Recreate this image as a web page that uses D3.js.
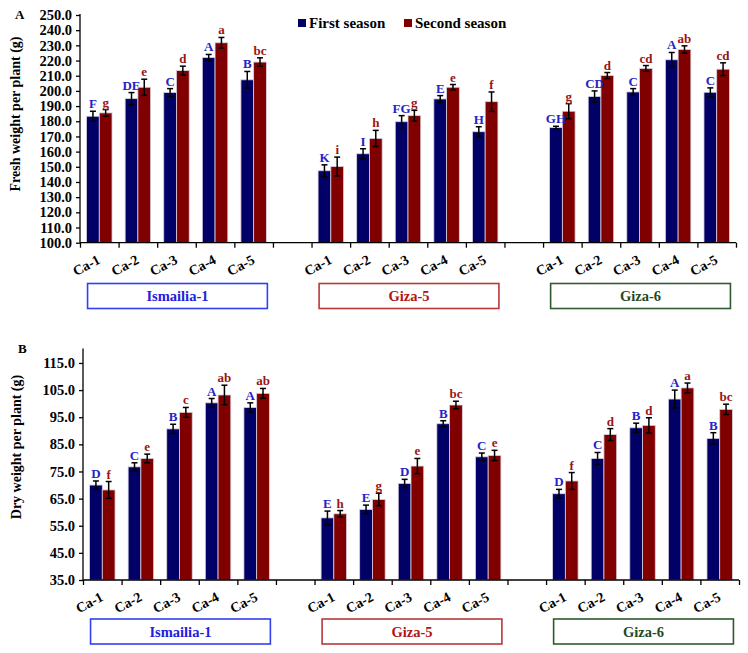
<!DOCTYPE html>
<html>
<head>
<meta charset="utf-8">
<style>
  body { margin: 0; background: #fff; }
  svg text { font-family: "Liberation Serif", "Times New Roman", serif; font-weight: bold; }
  .axis path, .axis line { stroke: #000; stroke-width: 1.3; }
  .axis text { font-size: 14.5px; fill: #000; }
  .bar { stroke: #d8d0e0; stroke-width: 0.8; }
  .err { stroke: #000; stroke-width: 1.5; fill: none; }
</style>
</head>
<body>
<svg id="chart" width="748" height="653"></svg>
<script src="https://cdn.jsdelivr.net/npm/d3@7"></script>
<script>
// cultivars, treatments, seasons
var cultivars = ["Ismailia-1", "Giza-5", "Giza-6"];
var treatments = ["Ca-1", "Ca-2", "Ca-3", "Ca-4", "Ca-5"];
var seasons = ["First season", "Second season"];

// A: fresh weight per plant (g), order: Ismailia-1 Ca-1..5, Giza-5 Ca-1..5, Giza-6 Ca-1..5
var freshFirst = [183.3, 194.9, 198.9, 222.0, 207.3, 147.4, 158.6, 179.7, 194.7, 173.1, 175.8, 196.3, 199.3, 220.5, 199.1];
var freshFirstErr = [3.3, 4.0, 2.6, 2.0, 5.5, 3.9, 3.3, 4.0, 2.2, 3.3, 0.9, 3.7, 2.2, 4.8, 2.9];
var freshSecond = [185.5, 202.4, 213.4, 231.7, 219.0, 150.2, 168.7, 183.7, 202.4, 192.9, 186.6, 210.1, 214.8, 227.3, 214.3];
var freshSecondErr = [2.2, 5.3, 2.9, 3.5, 2.8, 6.2, 5.3, 3.5, 1.8, 6.4, 5.0, 2.0, 1.9, 2.4, 4.2];
var freshFirstLetters = ["F", "DE", "C", "A", "B", "K", "I", "FG", "E", "H", "GH", "CD", "C", "A", "C"];
var freshSecondLetters = ["g", "e", "d", "a", "bc", "i", "h", "g", "e", "f", "g", "d", "cd", "ab", "cd"];
var freshTicks = [100, 110, 120, 130, 140, 150, 160, 170, 180, 190, 200, 210, 220, 230, 240, 250];

// B: dry weight per plant (g)
var dryFirst = [70.0, 76.7, 90.7, 100.3, 98.6, 57.9, 61.0, 70.6, 92.6, 80.4, 66.8, 79.8, 91.1, 101.7, 87.2];
var dryFirstErr = [1.5, 1.5, 1.7, 1.6, 1.7, 2.5, 1.6, 1.5, 1.1, 1.4, 1.6, 2.2, 1.7, 3.3, 2.1];
var drySecond = [68.2, 79.8, 96.8, 103.2, 103.8, 59.4, 64.7, 77.0, 99.5, 80.9, 71.5, 88.6, 92.0, 105.8, 97.9];
var drySecondErr = [3.1, 1.6, 1.8, 3.6, 1.8, 1.2, 2.3, 2.8, 1.4, 1.9, 3.1, 2.2, 2.8, 1.8, 1.9];
var dryFirstLetters = ["D", "C", "B", "A", "A", "E", "E", "D", "B", "C", "D", "C", "B", "A", "B"];
var drySecondLetters = ["f", "e", "c", "ab", "ab", "h", "g", "e", "bc", "e", "f", "d", "d", "a", "bc"];
var dryTicks = [35, 45, 55, 65, 75, 85, 95, 105, 115];

var barColors = ["#000066", "#800000"];
var letterColors = ["#2424c8", "#9a1515"];
var boxStroke = ["#3040ee", "#b83838", "#2f5a2f"];
var boxText = ["#2020dd", "#b01414", "#1f4a1f"];

var svg = d3.select("#chart");

// slot keys: 5 treatments per cultivar with an empty slot between cultivars
var slots = [];
cultivars.forEach(function(c, ci) {
  if (ci > 0) slots.push("gap" + ci);
  treatments.forEach(function(t) { slots.push(c + "|" + t); });
});

function drawPanel(opt) {
  var g = svg.append("g");
  var x = d3.scaleBand().domain(slots).range([opt.x0, opt.x1])
      .paddingInner(0.34).paddingOuter(0.17);
  var xs = d3.scaleBand().domain(seasons).range([0, x.bandwidth()]);
  var xl = d3.scaleLinear().domain([0, slots.length]).range([opt.x0, opt.x1]);
  var y = d3.scaleLinear().domain(opt.domain).range([opt.yBottom, opt.yTop]);

  var rows = [];
  cultivars.forEach(function(c, ci) {
    treatments.forEach(function(t, ti) {
      var i = ci * treatments.length + ti;
      rows.push({ key: c + "|" + t, t: t, s: 0, v: opt.first[i], e: opt.firstErr[i], l: opt.firstLetters[i] });
      rows.push({ key: c + "|" + t, t: t, s: 1, v: opt.second[i], e: opt.secondErr[i], l: opt.secondLetters[i] });
    });
  });

  g.selectAll("rect.bar").data(rows).enter().append("rect")
    .attr("class", "bar")
    .attr("x", function(d) { return x(d.key) + xs(seasons[d.s]); })
    .attr("y", function(d) { return y(d.v); })
    .attr("width", xs.bandwidth())
    .attr("height", function(d) { return y(opt.domain[0]) - y(d.v); })
    .attr("fill", function(d) { return barColors[d.s]; });

  var err = g.selectAll("g.err").data(rows).enter().append("g").attr("class", "err")
    .attr("transform", function(d) { return "translate(" + (x(d.key) + xs(seasons[d.s]) + xs.bandwidth() / 2) + ",0)"; });
  err.append("line").attr("y1", function(d) { return y(d.v - d.e); }).attr("y2", function(d) { return y(d.v + d.e); });
  err.append("line").attr("x1", -3).attr("x2", 3)
    .attr("y1", function(d) { return y(d.v + d.e); }).attr("y2", function(d) { return y(d.v + d.e); });
  err.append("line").attr("x1", -3).attr("x2", 3)
    .attr("y1", function(d) { return y(d.v - d.e); }).attr("y2", function(d) { return y(d.v - d.e); });

  g.selectAll("text.lab").data(rows).enter().append("text")
    .attr("class", "lab")
    .attr("x", function(d) { return x(d.key) + xs(seasons[d.s]) + xs.bandwidth() / 2; })
    .attr("y", function(d) { return y(d.v + d.e) - 3; })
    .attr("text-anchor", "middle")
    .style("font-size", "13px")
    .attr("fill", function(d) { return letterColors[d.s]; })
    .text(function(d) { return d.l; });

  // y axis
  g.append("g").attr("class", "axis")
    .attr("transform", "translate(" + opt.x0 + ",0)")
    .call(d3.axisLeft(y).tickValues(opt.ticks).tickSize(4).tickFormat(d3.format(".1f")))
    .call(function(a) { a.select(".domain").attr("d", "M0," + y(opt.domain[0]) + "V" + (opt.yTop - 1)); })
    .selectAll("text").attr("dx", "-1");

  // x axis: tick marks at slot boundaries
  g.append("g").attr("class", "axis")
    .attr("transform", "translate(0," + y(opt.domain[0]) + ")")
    .call(d3.axisBottom(xl).ticks(slots.length).tickSize(5).tickFormat(""))
    .select(".domain").attr("d", "M" + opt.x0 + ",0H" + opt.x1);

  // treatment labels, rotated
  g.selectAll("text.cat").data(rows.filter(function(d) { return d.s === 0; })).enter().append("text")
    .attr("class", "cat")
    .attr("text-anchor", "end")
    .style("font-size", "14px")
    .attr("transform", function(d) {
      return "translate(" + (x(d.key) + x.bandwidth() / 2 + 2) + "," + (y(opt.domain[0]) + 20) + ") rotate(-28)";
    })
    .text(function(d) { return d.t; });

  // cultivar boxes
  cultivars.forEach(function(c, ci) {
    var a = x(c + "|" + treatments[0]) + 1;
    var b = x(c + "|" + treatments[treatments.length - 1]) + x.bandwidth() + 1;
    g.append("rect").attr("x", a).attr("y", opt.boxY).attr("width", b - a).attr("height", 25)
      .attr("fill", "#fff").attr("stroke", boxStroke[ci]).attr("stroke-width", 1.6);
    g.append("text").attr("x", (a + b) / 2).attr("y", opt.boxY + 17.5)
      .attr("text-anchor", "middle").style("font-size", "14.5px")
      .attr("fill", boxText[ci]).text(c);
  });

  // panel letter and axis title
  g.append("text").attr("x", opt.tagX).attr("y", opt.tagY).style("font-size", "13px").text(opt.tag);
  g.append("text")
    .attr("transform", "translate(" + opt.titleX + "," + opt.titleY + ") rotate(-90)")
    .attr("text-anchor", "middle").style("font-size", "14px")
    .text(opt.title);
}

drawPanel({
  x0: 80, x1: 736, yBottom: 242.7, yTop: 15, domain: [100, 250], ticks: freshTicks,
  first: freshFirst, firstErr: freshFirstErr, second: freshSecond, secondErr: freshSecondErr,
  firstLetters: freshFirstLetters, secondLetters: freshSecondLetters,
  boxY: 283.5, tag: "A", tagX: 15, tagY: 19, title: "Fresh weight per plant (g)", titleX: 20, titleY: 114
});

drawPanel({
  x0: 83, x1: 739, yBottom: 580, yTop: 349.4, domain: [35, 120], ticks: dryTicks,
  first: dryFirst, firstErr: dryFirstErr, second: drySecond, secondErr: drySecondErr,
  firstLetters: dryFirstLetters, secondLetters: drySecondLetters,
  boxY: 619, tag: "B", tagX: 18, tagY: 353, title: "Dry weight per plant (g)", titleX: 21, titleY: 447
});

// legend
var legend = svg.append("g").attr("transform", "translate(298,19)");
var li = legend.selectAll("g").data(seasons).enter().append("g")
  .attr("transform", function(d, i) { return "translate(" + (i * 106) + ",0)"; });
li.append("rect").attr("width", 8).attr("height", 8).attr("fill", function(d, i) { return barColors[i]; });
li.append("text").attr("x", 11).attr("y", 8.5).style("font-size", "15px").text(function(d) { return d; });
</script>
</body>
</html>
